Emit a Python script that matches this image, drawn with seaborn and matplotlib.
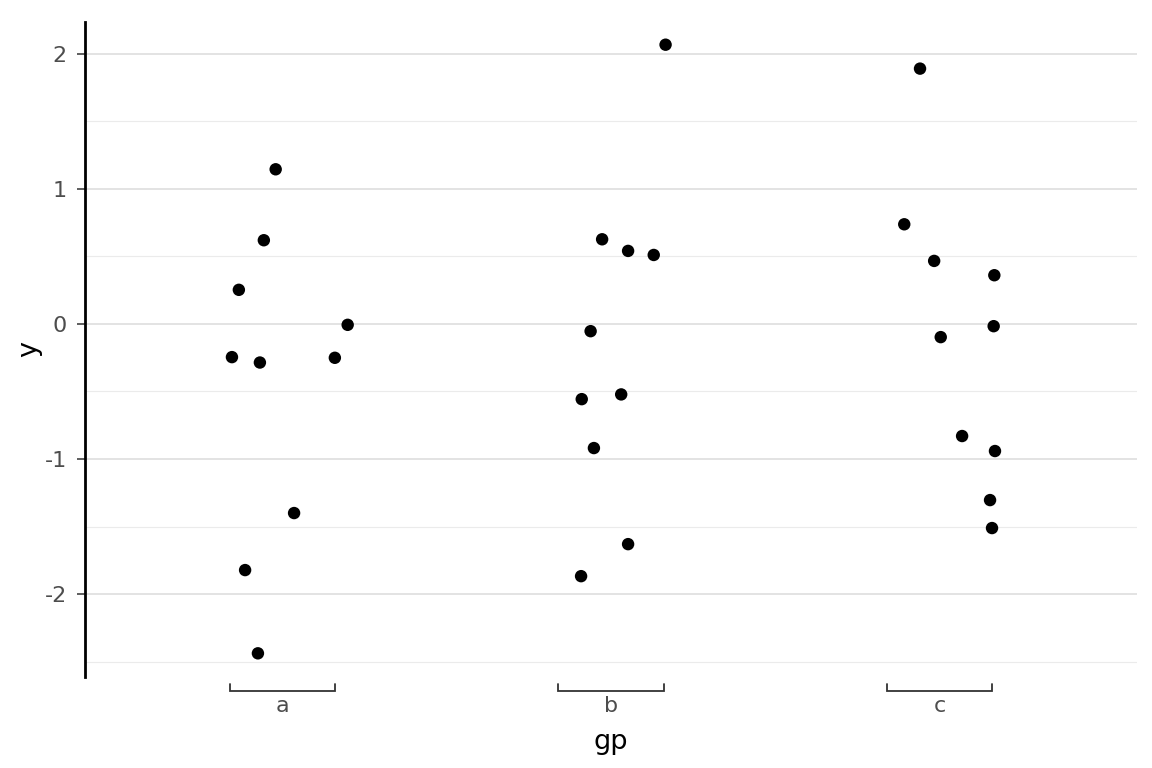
import numpy as np
import pandas as pd
import matplotlib
matplotlib.use("Agg")
import matplotlib.pyplot as plt
import matplotlib.transforms as mtransforms
import seaborn as sns

# ---- data ----
categories = ["a", "b", "c"]

a_y = [1.144, 0.619, 0.252, -0.007, -0.246, -0.286, -0.251, -1.400, -1.822, -2.438]
a_jit = [-0.020, -0.056, -0.132, 0.199, -0.153, -0.068, 0.160, 0.036, -0.113, -0.074]

b_y = [2.066, 0.626, 0.540, 0.510, -0.054, -0.557, -0.522, -0.919, -1.630, -1.867]
b_jit = [0.166, -0.027, 0.052, 0.130, -0.062, -0.089, 0.031, -0.052, 0.052, -0.091]

c_y = [1.889, 0.737, 0.466, 0.360, -0.017, -0.098, -0.830, -0.941, -1.304, -1.511]
c_jit = [-0.060, -0.108, -0.017, 0.166, 0.164, 0.003, 0.068, 0.168, 0.153, 0.159]

y_ticks = [-2, -1, 0, 1, 2]
y_minor = [-2.5, -1.5, -0.5, 0.5, 1.5]
y_limits = (-2.611, 2.234)

gp = ["a"] * len(a_y) + ["b"] * len(b_y) + ["c"] * len(c_y)
yv = a_y + b_y + c_y
jit = a_jit + b_jit + c_jit
df = pd.DataFrame({"gp": gp, "y": yv, "jit": jit})
df["xpos"] = df["gp"].map({c: i for i, c in enumerate(categories)}) + df["jit"]

# ---- figure ----
sns.set_theme(style="white")
plt.rcParams["font.family"] = ["DejaVu Sans"]

W, H = 1152, 768
fig = plt.figure(figsize=(W / 100, H / 100), dpi=100)
L, R, T, B = 85, 1137, 22, 676.7
ax = fig.add_axes([L / W, 1 - B / H, (R - L) / W, (B - T) / H])
ax.set_facecolor("white")

# grid lines
for v in y_minor:
    ax.axhline(v, color="#EBEBEB", lw=0.8, zorder=0)
for v in y_ticks:
    ax.axhline(v, color="#DEDEDE", lw=1.2, zorder=0)

sns.scatterplot(data=df, x="xpos", y="y", color="black", s=80,
                edgecolor="none", linewidth=0, ax=ax, zorder=3, legend=False)

ax.set_xlim(-0.6, len(categories) - 1 + 0.6)
ax.set_ylim(*y_limits)

# spines
for s in ["top", "right", "bottom"]:
    ax.spines[s].set_visible(False)
ax.spines["left"].set_color("black")
ax.spines["left"].set_linewidth(2.0)

# y ticks
ax.set_yticks(y_ticks)
ax.set_yticklabels([str(t) for t in y_ticks])
ax.tick_params(axis="y", which="major", length=6, width=1.1, color="#333333",
               labelcolor="#4D4D4D", labelsize=16, pad=7, left=True)

# x ticks: labels only, brackets drawn below
ax.set_xticks(range(len(categories)))
ax.set_xticklabels(categories)
ax.tick_params(axis="x", length=0, labelcolor="#4D4D4D", labelsize=16, pad=14)

# brackets
ah = B - T
trans = mtransforms.blended_transform_factory(ax.transData, ax.transAxes)
yb_lo = -(691 - B) / ah
yb_hi = -(684 - B) / ah
hw = 0.16
for i in range(len(categories)):
    ax.plot([i - hw, i - hw, i + hw, i + hw], [yb_hi, yb_lo, yb_lo, yb_hi],
            color="#333333", lw=1.3, transform=trans, clip_on=False,
            solid_joinstyle="miter")

ax.set_xlabel("gp", fontsize=19.5, color="black", labelpad=9)
ax.set_ylabel("y", fontsize=19.5, color="black", labelpad=2)

fig.savefig("out.png", dpi=100, facecolor="white")
